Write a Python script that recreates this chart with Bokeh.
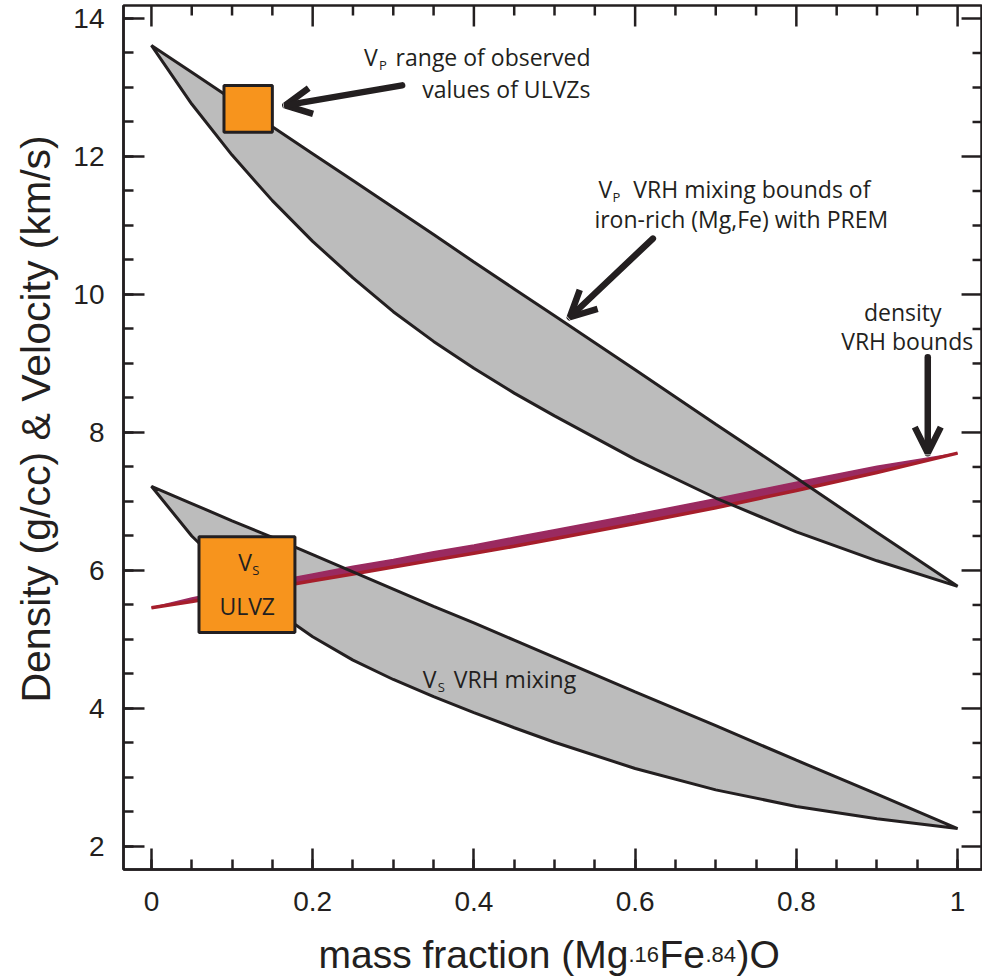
import math
from bokeh.plotting import figure
from bokeh.layouts import row, column
from bokeh.models import Range1d, FixedTicker, Label, Arrow, OpenHead, NumeralTickFormatter
from bokeh.core.properties import value
from bokeh.embed import file_html
from bokeh.resources import INLINE

# ---------------- data ----------------
frac = [0.0, 0.05, 0.1, 0.15, 0.2, 0.25, 0.3, 0.35, 0.4, 0.45, 0.5, 0.6, 0.7, 0.8, 0.9, 1.0]

vp_upper = [13.61, 13.22, 12.83, 12.43, 12.04, 11.65, 11.26, 10.87, 10.47, 10.08, 9.69, 8.91, 8.12, 7.34, 6.55, 5.77]
vp_lower = [13.61, 12.76, 12.02, 11.36, 10.77, 10.24, 9.75, 9.32, 8.93, 8.57, 8.24, 7.61, 7.05, 6.56, 6.14, 5.77]

vs_upper = [7.22, 6.97, 6.72, 6.48, 6.23, 5.98, 5.73, 5.48, 5.24, 4.99, 4.74, 4.24, 3.75, 3.25, 2.76, 2.26]
vs_lower = [7.22, 6.50, 5.93, 5.45, 5.04, 4.70, 4.42, 4.17, 3.94, 3.72, 3.51, 3.13, 2.82, 2.58, 2.40, 2.26]

dens_lower = [5.46, 5.55, 5.65, 5.75, 5.85, 5.95, 6.05, 6.15, 6.25, 6.35, 6.46, 6.68, 6.91, 7.16, 7.42, 7.70]
dens_upper = [5.46, 5.60, 5.72, 5.84, 5.95, 6.06, 6.16, 6.27, 6.37, 6.48, 6.59, 6.81, 7.04, 7.28, 7.51, 7.70]

# observed ULVZ ranges (mass fraction range, velocity range)
ulvz_vp_frac = [0.090, 0.150]
ulvz_vp_vel = [12.35, 13.03]
ulvz_vs_frac = [0.059, 0.178]
ulvz_vs_vel = [5.10, 6.49]

x_ticks = [0, 0.2, 0.4, 0.6, 0.8, 1.0]
x_minor = [round(0.05 * i, 2) for i in range(21)]
y_ticks = [2, 4, 6, 8, 10, 12, 14]
y_minor = [2 + 0.5 * i for i in range(25)]

# ---------------- style ----------------
INK = "#231f20"
GRAY = "#bcbcbc"
ORANGE = "#f7941d"
PURPLE = "#9a2a60"
RED = "#a61e2b"
SANS = "Liberation Sans"
ANN = "Open Sans"

X0, X1 = -0.03465, 1.0309
Y0, Y1 = 1.666, 14.188
FRAME_W, FRAME_H = 861, 864

p = figure(width=912, height=930, output_backend="svg", toolbar_location=None,
           x_range=Range1d(X0, X1), y_range=Range1d(Y0, Y1),
           min_border_left=51, min_border_right=0, min_border_top=5, min_border_bottom=61,
           background_fill_color="white", border_fill_color="white")
p.grid.visible = False
p.outline_line_color = INK
p.outline_line_width = 2.5


def style_axis(ax, ticks, minor, standoff):
    ax.ticker = FixedTicker(ticks=ticks, minor_ticks=minor)
    ax.major_tick_in = 21
    ax.major_tick_out = 0
    ax.minor_tick_in = 10
    ax.minor_tick_out = 0
    ax.major_tick_line_width = 2.5
    ax.minor_tick_line_width = 2.5
    ax.major_tick_line_color = INK
    ax.minor_tick_line_color = INK
    ax.axis_line_width = 2.5
    ax.axis_line_color = INK
    ax.axis_label = None
    ax.major_label_text_font = SANS
    ax.major_label_text_font_size = "28px"
    ax.major_label_text_color = INK
    ax.major_label_standoff = standoff


style_axis(p.below[0], x_ticks, x_minor, 22)
p.below[0].formatter = NumeralTickFormatter(format="0.[0]")
style_axis(p.left[0], y_ticks, y_minor, 19)

# inward ticks on the top and right edges of the frame
dx = (X1 - X0) / FRAME_W
dy = (Y1 - Y0) / FRAME_H
top_major = [t for t in x_ticks]
top_minor = [t for t in x_minor if t not in x_ticks]
p.segment(x0=top_major, x1=top_major, y0=[Y1] * len(top_major), y1=[Y1 - 21 * dy] * len(top_major),
          line_color=INK, line_width=2.5)
p.segment(x0=top_minor, x1=top_minor, y0=[Y1] * len(top_minor), y1=[Y1 - 10 * dy] * len(top_minor),
          line_color=INK, line_width=2.5)
right_major = [t for t in y_ticks]
right_minor = [t for t in y_minor if t not in y_ticks]
p.segment(x0=[X1] * len(right_major), x1=[X1 - 21 * dx] * len(right_major), y0=right_major, y1=right_major,
          line_color=INK, line_width=2.5)
p.segment(x0=[X1] * len(right_minor), x1=[X1 - 10 * dx] * len(right_minor), y0=right_minor, y1=right_minor,
          line_color=INK, line_width=2.5)

# ---------------- regions ----------------
vp_xs = frac + frac[::-1]
vp_ys = vp_upper + vp_lower[::-1]
vs_xs = frac + frac[::-1]
vs_ys = vs_upper + vs_lower[::-1]

p.patch(vp_xs, vp_ys, fill_color=GRAY, line_color=None)
p.patch(vs_xs, vs_ys, fill_color=GRAY, line_color=None)

p.varea(x=frac, y1=dens_lower, y2=dens_upper, fill_color=PURPLE)
p.line(frac, dens_upper, line_color=PURPLE, line_width=1.5)
p.line(frac, dens_lower, line_color=RED, line_width=3.5)

p.patch(vp_xs, vp_ys, fill_alpha=0, line_color=INK, line_width=3)
p.patch(vs_xs, vs_ys, fill_alpha=0, line_color=INK, line_width=3)

p.quad(left=[ulvz_vp_frac[0]], right=[ulvz_vp_frac[1]], bottom=[ulvz_vp_vel[0]], top=[ulvz_vp_vel[1]],
       fill_color=ORANGE, line_color=INK, line_width=3)
p.quad(left=[ulvz_vs_frac[0]], right=[ulvz_vs_frac[1]], bottom=[ulvz_vs_vel[0]], top=[ulvz_vs_vel[1]],
       fill_color=ORANGE, line_color=INK, line_width=3)


# ---------------- annotations ----------------
def lab(x, y, text, size, align="left", font=ANN):
    p.add_layout(Label(x=x, y=y, text=text, text_font=font, text_font_size=f"{size}px",
                       text_color=INK, text_align=align, text_baseline="alphabetic"))


# Vp ULVZ
lab(0.2636, 13.435, "V", 23)
lab(0.2822, 13.319, "P", 13)
lab(0.5446, 13.435, "range of observed", 23, align="right")
lab(0.5446, 12.971, "values of ULVZs", 23, align="right")

# Vp VRH bounds
lab(0.5545, 11.522, "V", 23)
lab(0.5718, 11.406, "P", 13)
lab(0.5978, 11.522, "VRH mixing bounds of", 23)
lab(0.5495, 11.087, "iron-rich (Mg,Fe) with PREM", 23)

# density
lab(0.9319, 9.75, "density", 23, align="center")
lab(0.9375, 9.33, "VRH bounds", 23, align="center")

# Vs VRH
lab(0.3366, 4.42, "V", 23)
lab(0.3552, 4.304, "S", 13)
lab(0.3750, 4.42, "VRH mixing", 23)

# Vs ULVZ box
lab(0.1077, 6.116, "V", 23)
lab(0.1250, 6.000, "S", 13)
lab(0.1188, 5.48, "ULVZ", 23, align="center")

# arrows
for xs, ys, xe, ye in [(0.311, 13.03, 0.166, 12.74),
                       (0.622, 10.81, 0.519, 9.67),
                       (0.963, 9.09, 0.963, 7.70)]:
    p.add_layout(Arrow(end=OpenHead(size=26, line_width=6.5, line_color=INK),
                       x_start=xs, y_start=ys, x_end=xe, y_end=ye,
                       line_width=6.5, line_color=INK, line_cap="round"))

# ---------------- axis titles (own small canvases) ----------------
yfig = figure(width=70, height=930, output_backend="svg", toolbar_location=None,
              x_range=Range1d(0, 70), y_range=Range1d(0, 930), min_border=0,
              x_axis_location=None, y_axis_location=None, outline_line_color=None,
              background_fill_color="white", border_fill_color="white")
yfig.grid.visible = False
yfig.text(x=[35], y=[485], text=["Density (g/cc) & Velocity (km/s)"], angle=math.pi / 2,
          text_font=value(SANS), text_font_size="41px", text_color=INK,
          text_align="center", text_baseline="middle")

xfig = figure(width=982, height=48, output_backend="svg", toolbar_location=None,
              x_range=Range1d(0, 982), y_range=Range1d(0, 48), min_border=0,
              x_axis_location=None, y_axis_location=None, outline_line_color=None,
              background_fill_color="white", border_fill_color="white")
xfig.grid.visible = False
pieces = ["mass fraction (Mg", ".16", "Fe", ".84", ")O"]
sizes = ["39px", "22px", "39px", "22px", "39px"]
offs = [0, 310, 341, 387, 418]
xfig.text(x=[318 + o for o in offs], y=[24] * 5, text=pieces,
          text_font=value(SANS), text_font_size=sizes, text_color=INK,
          text_align="left", text_baseline="alphabetic")

layout = column(row(yfig, p, spacing=0), xfig, spacing=0)
open("out.html", "w").write(file_html(layout, INLINE))
